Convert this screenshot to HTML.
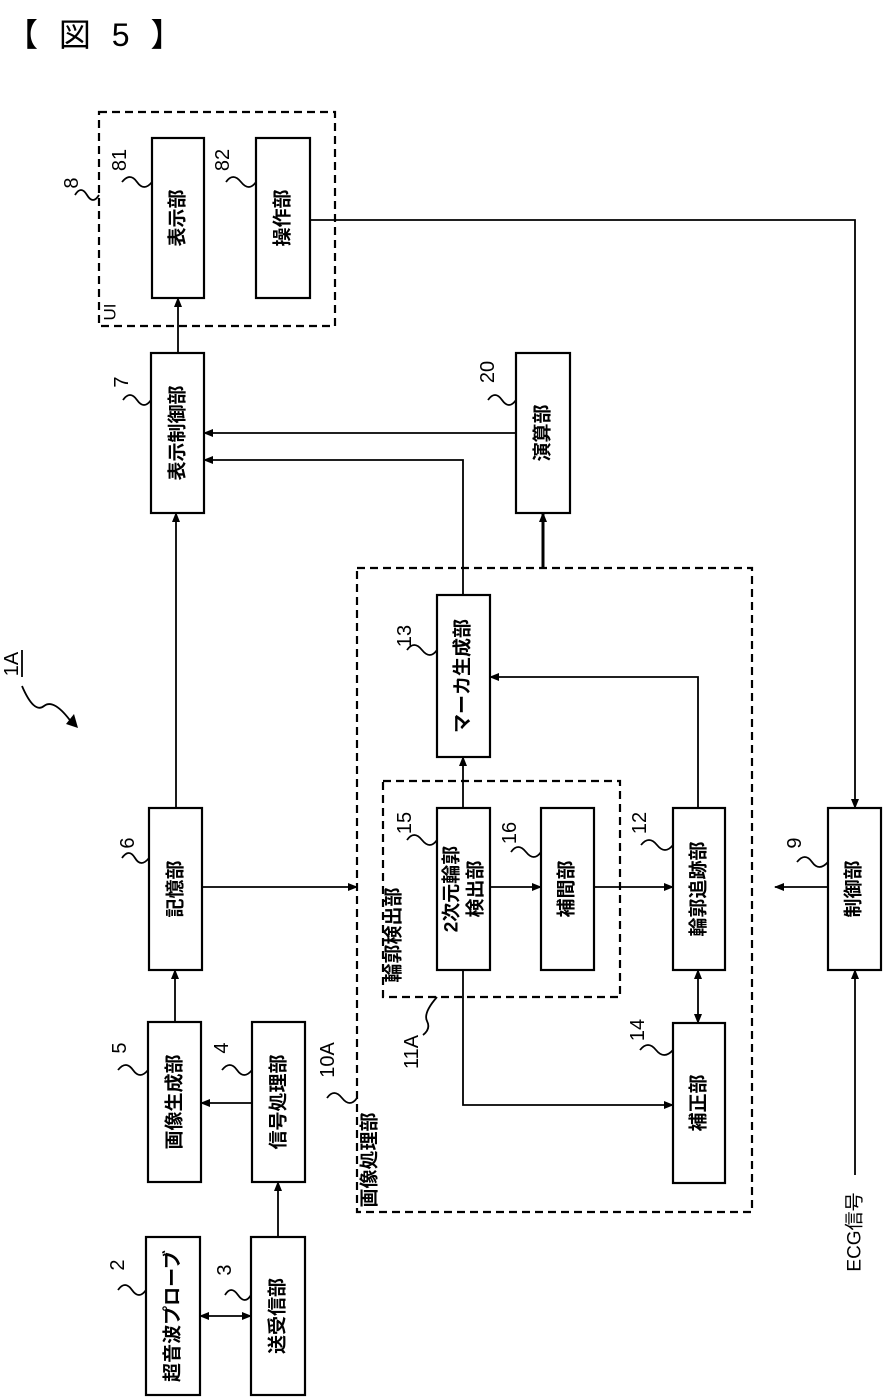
<!DOCTYPE html>
<html><head><meta charset="utf-8"><style>
html,body{margin:0;padding:0;background:#fff;}
svg{display:block;}
text{font-family:"Liberation Sans","Noto Sans CJK JP",sans-serif;fill:#000;}
</style></head><body>
<svg width="883" height="1397" viewBox="0 0 883 1397" xmlns="http://www.w3.org/2000/svg">
<defs>
<marker id="a" markerWidth="10" markerHeight="10" refX="9" refY="5" orient="auto" markerUnits="userSpaceOnUse"><path d="M0,1 L10,5 L0,9 Z" fill="#000"/></marker>
<marker id="s" markerWidth="10" markerHeight="10" refX="1" refY="5" orient="auto" markerUnits="userSpaceOnUse"><path d="M10,1 L0,5 L10,9 Z" fill="#000"/></marker>
</defs>
<text x="6" y="46" font-size="32" style="letter-spacing:6px">【 図 5 】</text>

<g fill="none" stroke="#000" stroke-width="2.2" stroke-dasharray="8,5">
<rect x="99" y="112" width="236" height="214"/>
<rect x="357" y="568" width="395" height="644"/>
<rect x="383" y="781" width="237" height="216"/>
</g>
<g fill="#fff" stroke="#000" stroke-width="2.2">
<rect x="152" y="138" width="52" height="160"/>
<rect x="256" y="138" width="54" height="160"/>
<rect x="151" y="353" width="53" height="160"/>
<rect x="516" y="353" width="54" height="160"/>
<rect x="149" y="808" width="53" height="162"/>
<rect x="148" y="1022" width="53" height="160"/>
<rect x="252" y="1022" width="53" height="160"/>
<rect x="146" y="1237" width="54" height="158"/>
<rect x="251" y="1237" width="54" height="158"/>
<rect x="437" y="595" width="53" height="162"/>
<rect x="437" y="808" width="53" height="162"/>
<rect x="541" y="808" width="53" height="162"/>
<rect x="673" y="808" width="52" height="162"/>
<rect x="673" y="1023" width="52" height="160"/>
<rect x="828" y="808" width="53" height="162"/>
</g>

<g fill="none" stroke="#000" stroke-width="1.8">
<path d="M178,353 V298" marker-end="url(#a)"/>
<path d="M516,433 H204" marker-end="url(#a)"/>
<path d="M463,595 V460 H204" marker-end="url(#a)"/>
<path d="M543,568 V513" marker-end="url(#a)" stroke-width="3"/>
<path d="M176,808 V513" marker-end="url(#a)"/>
<path d="M202,887 H357" marker-end="url(#a)"/>
<path d="M463,808 V757" marker-end="url(#a)"/>
<path d="M490,887 H541" marker-end="url(#a)"/>
<path d="M594,887 H673" marker-end="url(#a)"/>
<path d="M698,808 V677 H490" marker-end="url(#a)"/>
<path d="M698,970 V1023" marker-start="url(#s)" marker-end="url(#a)"/>
<path d="M463,970 V1105 H673" marker-end="url(#a)"/>
<path d="M828,887 H775" marker-end="url(#a)"/>
<path d="M310,220 H855 V808" marker-end="url(#a)"/>
<path d="M855,1175 V970" marker-end="url(#a)"/>
<path d="M175,1022 V970" marker-end="url(#a)"/>
<path d="M252,1103 H201" marker-end="url(#a)"/>
<path d="M278,1237 V1182" marker-end="url(#a)"/>
<path d="M200,1316 H251" marker-start="url(#s)" marker-end="url(#a)"/>
</g>

<g font-size="19" font-weight="bold" text-anchor="middle" dominant-baseline="central">
<text transform="translate(178,218) rotate(-90)">表示部</text>
<text transform="translate(283,218) rotate(-90)">操作部</text>
<text transform="translate(178,433) rotate(-90)">表示制御部</text>
<text transform="translate(543,433) rotate(-90)">演算部</text>
<text transform="translate(176,889) rotate(-90)">記憶部</text>
<text transform="translate(175,1102) rotate(-90)">画像生成部</text>
<text transform="translate(279,1102) rotate(-90)">信号処理部</text>
<text transform="translate(173,1316) rotate(-90)">超音波プローブ</text>
<text transform="translate(278,1316) rotate(-90)">送受信部</text>
<text transform="translate(463,676) rotate(-90)">マーカ生成部</text>
<text transform="translate(452,889) rotate(-90)">2次元輪郭</text>
<text transform="translate(476,889) rotate(-90)">検出部</text>
<text transform="translate(567,889) rotate(-90)">補間部</text>
<text transform="translate(699,889) rotate(-90)">輪郭追跡部</text>
<text transform="translate(699,1103) rotate(-90)">補正部</text>
<text transform="translate(854,889) rotate(-90)">制御部</text>
<text transform="translate(370,1160) rotate(-90)">画像処理部</text>
<text transform="translate(394,935) rotate(-90)">輪郭検出部</text>
<text transform="translate(855,1232) rotate(-90)" font-weight="normal">ECG信号</text>
<text transform="translate(110,312) rotate(-90)" font-size="17" font-weight="normal">UI</text>
</g>

<g font-size="20" text-anchor="middle" dominant-baseline="central">
<text transform="translate(72,183) rotate(-90)">8</text>
<text transform="translate(120,160) rotate(-90)">81</text>
<text transform="translate(223,160) rotate(-90)">82</text>
<text transform="translate(122,382) rotate(-90)">7</text>
<text transform="translate(488,372) rotate(-90)">20</text>
<text transform="translate(405,636) rotate(-90)">13</text>
<text transform="translate(128,843) rotate(-90)">6</text>
<text transform="translate(405,823) rotate(-90)">15</text>
<text transform="translate(510,833) rotate(-90)">16</text>
<text transform="translate(640,823) rotate(-90)">12</text>
<text transform="translate(795,843) rotate(-90)">9</text>
<text transform="translate(120,1048) rotate(-90)">5</text>
<text transform="translate(222,1048) rotate(-90)">4</text>
<text transform="translate(328,1060) rotate(-90)">10A</text>
<text transform="translate(638,1030) rotate(-90)">14</text>
<text transform="translate(412,1052) rotate(-90)">11A</text>
<text transform="translate(118,1265) rotate(-90)">2</text>
<text transform="translate(225,1270) rotate(-90)">3</text>
<text transform="translate(12,664) rotate(-90)">1A</text>
</g>
<g fill="none" stroke="#000" stroke-width="1.8">
<path d="M22,650 V677"/>
<path d="M75,195 q6,-10 12,0 t12,0"/>
<path d="M122,182 q8,-10 15,0 t15,0"/>
<path d="M226,182 q7,-10 15,0 t15,0"/>
<path d="M123,400 q7,-10 14,0 t14,0"/>
<path d="M488,400 q7,-10 14,0 t14,0"/>
<path d="M407,650 q7,-10 15,0 t15,0"/>
<path d="M122,858 q7,-10 13,0 t14,0"/>
<path d="M407,840 q7,-10 15,0 t15,0"/>
<path d="M511,852 q7,-10 15,0 t15,0"/>
<path d="M641,845 q8,-10 16,0 t16,0"/>
<path d="M797,862 q8,-10 15,0 t16,0"/>
<path d="M118,1070 q8,-10 15,0 t15,0"/>
<path d="M222,1070 q8,-10 15,0 t15,0"/>
<path d="M327,1098 q7,-10 15,0 t15,0"/>
<path d="M640,1050 q8,-10 16,0 t17,0"/>
<path d="M423,1035 q8,-6 4,-14 t10,-24"/>
<path d="M118,1290 q7,-10 14,0 t14,0"/>
<path d="M225,1295 q6,-10 13,0 t13,0"/>
<path d="M22,686 q12,28 22,20 t28,17"/>
</g>
<path d="M78,728 L66,724 L74,714 Z" fill="#000"/>
</svg>
</body></html>
